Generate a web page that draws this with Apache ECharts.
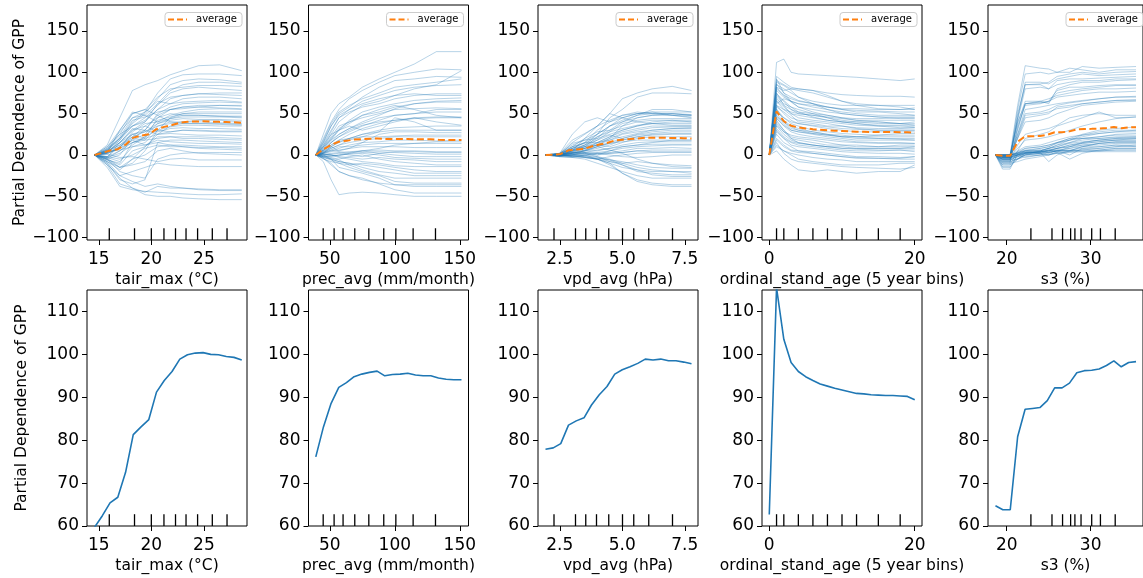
<!DOCTYPE html>
<html><head><meta charset="utf-8">
<script src="https://cdn.jsdelivr.net/npm/echarts@6/dist/echarts.min.js"></script>
<style>html,body{margin:0;padding:0;background:#fff}#c{width:1143px;height:578px}</style>
</head><body><div id="c"></div>
<script>
// ---------------- DATA ----------------
const featureLabels = ['tair_max (°C)', 'prec_avg (mm/month)', 'vpd_avg (hPa)', 'ordinal_stand_age (5 year bins)', 's3 (%)'];
const yAxisTitle = 'Partial Dependence of GPP';
const legendLabel = 'average';
const yTicksTop = [-100, -50, 0, 50, 100, 150];
const yTicksBottom = [60, 70, 80, 90, 100, 110];
const tairTicks = [15, 20, 25];
const precTicks = [50, 100, 150];
const vpdTicks = [2.5, 5.0, 7.5];
const ageTicks = [0, 20];
const s3Ticks = [20, 30];

// decile rug values
const tairDeciles = [16.0, 18.4, 20.0, 21.2, 22.3, 23.3, 24.4, 25.8, 27.2];
const precDeciles = [44.9, 53.3, 60.2, 69.2, 80.0, 91.5, 100.8, 114.1, 131.3];
const vpdDeciles = [2.27, 3.13, 3.54, 3.97, 4.46, 5.01, 5.46, 6.06, 7.01];
const ageDeciles = [1, 2, 4, 6, 8, 10, 12, 15, 18];
const s3Deciles = [22.88, 25.39, 26.65, 27.61, 28.12, 28.85, 30.12, 31.16, 32.92];

// partial dependence grids, averages (centered ICE mean) and PD
const tairGrid = [14.6, 15.34, 16.07, 16.81, 17.55, 18.28, 19.02, 19.76, 20.49, 21.23, 21.97, 22.71, 23.44, 24.18, 24.92, 25.65, 26.39, 27.13, 27.86, 28.6];
const tairAvg = [0, 2.6, 5.5, 7.0, 12.5, 21.0, 23.4, 25.0, 31.2, 34.0, 36.2, 39.0, 40.1, 40.6, 40.7, 40.3, 40.1, 39.8, 39.5, 39.0];
const tairPd = [59.7, 62.4, 65.4, 66.7, 72.5, 81.3, 83.1, 84.8, 91.2, 93.9, 96.0, 98.9, 99.9, 100.3, 100.4, 100.0, 99.9, 99.5, 99.3, 98.7];

const precGrid = [39.2, 45.1, 51.0, 56.9, 62.8, 68.7, 74.6, 80.5, 86.4, 92.3, 98.2, 104.1, 110.0, 115.9, 121.8, 127.7, 133.6, 139.5, 145.4, 151.3];
const precAvg = [0, 7.0, 12.3, 16.0, 17.3, 18.6, 19.2, 19.6, 19.9, 19.3, 19.3, 19.3, 19.4, 19.1, 18.9, 18.9, 18.4, 18.1, 18.0, 18.0];
const precPd = [76.1, 83.1, 88.6, 92.3, 93.4, 94.8, 95.4, 95.8, 96.1, 95.0, 95.3, 95.4, 95.6, 95.2, 95.0, 95.0, 94.5, 94.2, 94.1, 94.1];

const vpdGrid = [1.93, 2.24, 2.54, 2.85, 3.16, 3.47, 3.77, 4.08, 4.39, 4.70, 5.00, 5.31, 5.62, 5.92, 6.23, 6.54, 6.85, 7.15, 7.46, 7.77];
const vpdAvg = [0, 0.3, 1.3, 5.6, 6.6, 7.3, 10.3, 12.7, 14.6, 17.5, 18.5, 19.2, 20.0, 21.0, 20.8, 21.0, 20.6, 20.6, 20.3, 19.9];
const vpdPd = [77.9, 78.2, 79.2, 83.5, 84.5, 85.2, 88.2, 90.6, 92.5, 95.4, 96.4, 97.1, 97.9, 98.9, 98.7, 98.9, 98.5, 98.5, 98.2, 97.8];

const ageGrid = [0, 1, 2, 3, 4, 5, 6, 7, 8, 9, 10, 11, 12, 13, 14, 15, 16, 17, 18, 19, 20];
const ageAvg = [0, 52.8, 40.8, 35.4, 33.3, 32.1, 31.2, 30.4, 29.9, 29.4, 29.0, 28.6, 28.2, 28.1, 27.9, 27.8, 27.7, 27.7, 27.6, 27.5, 26.7];
const agePd = [62.7, 115.5, 103.5, 98.1, 96.0, 94.8, 93.9, 93.1, 92.6, 92.1, 91.7, 91.3, 90.9, 90.8, 90.6, 90.5, 90.4, 90.4, 90.3, 90.2, 89.4];

const s3Grid = [18.66, 19.54, 20.42, 21.30, 22.19, 23.07, 23.95, 24.83, 25.71, 26.59, 27.47, 28.35, 29.24, 30.12, 31.00, 31.88, 32.76, 33.64, 34.52, 35.40];
const s3Avg = [0, -0.9, -0.9, 16.1, 22.5, 22.7, 22.9, 24.5, 27.5, 27.5, 28.6, 31.0, 31.5, 31.6, 31.9, 32.7, 33.8, 32.4, 33.4, 33.6];
const s3Pd = [64.7, 63.8, 63.8, 80.8, 87.2, 87.4, 87.6, 89.2, 92.2, 92.2, 93.3, 95.7, 96.2, 96.3, 96.6, 97.4, 98.5, 97.1, 98.1, 98.3];

// individual conditional expectation (centered) lines
const tairIceX = [14.6, 15.8, 17, 18.2, 19.4, 20.6, 21.8, 23, 24.5, 26.5, 28.6];
const tairIce = [
 [0, 12, 45, 78, 85, 90, 97, 102, 108, 109, 102],
 [0, 8, 28, 45, 52, 75, 92, 97, 98, 98, 96],
 [0, 5, 20, 38, 50, 68, 85, 90, 92, 91, 88],
 [0, 10, 25, 35, 45, 60, 75, 80, 82, 80, 78],
 [0, 3, 15, 30, 40, 55, 68, 72, 74, 73, 72],
 [0, 6, 18, 40, 52, 65, 62, 64, 65, 66, 64],
 [0, -2, 10, 25, 30, 50, 58, 62, 63, 64, 63],
 [0, 4, 12, 22, 35, 45, 55, 58, 60, 60, 59],
 [0, 2, 8, 28, 38, 40, 48, 52, 55, 56, 55],
 [0, -4, 5, 18, 25, 42, 46, 50, 50, 50, 50],
 [0, 6, 22, 45, 48, 40, 44, 46, 46, 46, 45],
 [0, -6, -10, 15, 22, 38, 42, 44, 43, 43, 42],
 [0, 3, 10, 20, 18, 35, 40, 40, 40, 39, 38],
 [0, -3, 2, 12, 22, 30, 34, 36, 36, 35, 35],
 [0, 5, 15, 30, 35, 28, 32, 33, 32, 32, 31],
 [0, -8, -15, -10, 5, 30, 28, 30, 29, 28, 28],
 [0, 2, 8, 15, 20, 25, 26, 25, 24, 24, 23],
 [0, -5, -12, 5, 10, 22, 22, 20, 20, 19, 18],
 [0, 4, 6, 10, 12, 18, 16, 15, 14, 14, 13],
 [0, -2, -5, 0, 8, 12, 10, 10, 9, 9, 8],
 [0, -10, -30, -35, -30, 15, 12, 10, 8, 7, 6],
 [0, -5, -20, -25, -28, -5, 0, 2, 3, 3, 3],
 [0, 1, -3, -2, -5, -8, -5, -4, -6, -6, -6],
 [0, -8, -25, -20, -15, -10, -12, -13, -14, -14, -14],
 [0, -12, -35, -40, -45, -38, -40, -40, -41, -42, -42],
 [0, -15, -38, -42, -44, -45, -46, -47, -48, -48, -47],
 [0, -10, -28, -40, -48, -50, -50, -52, -53, -54, -54],
 [0, 7, 25, 50, 55, 48, 40, 38, 38, 37, 36],
 [0, 3, 30, 52, 48, 62, 70, 72, 74, 75, 75],
 [0, -3, 15, 25, 20, 45, 50, 48, 48, 47, 46],
 [0, 2, 18, 35, 42, 55, 62, 68, 70, 70, 68],
 [0, -5, 0, 20, 30, 48, 55, 58, 58, 57, 56],
 [0, 8, 20, 42, 46, 52, 55, 56, 58, 60, 60],
 [0, -3, -8, 10, 15, 30, 45, 50, 52, 52, 52],
 [0, 5, 12, 25, 28, 38, 44, 48, 48, 47, 47],
 [0, 1, 10, 22, 28, 35, 38, 40, 42, 42, 40],
 [0, -6, -15, -5, 10, 25, 35, 38, 38, 38, 37],
 [0, 4, 15, 32, 30, 25, 28, 30, 30, 29, 29],
 [0, -2, 5, 15, 18, 20, 22, 22, 22, 21, 20],
 [0, 3, 8, 18, 12, 15, 18, 18, 17, 16, 15],
 [0, -8, -18, -5, 0, 10, 12, 12, 11, 10, 10],
 [0, 6, 20, 35, 40, 62, 78, 85, 88, 88, 86],
 [0, -4, -15, -12, -8, 5, 8, 5, 2, 1, 0],
 [0, 10, 30, 50, 55, 70, 80, 82, 84, 84, 83],
 [0, -12, -25, -32, -38, -35, -38, -40, -42, -43, -43]
];
const precIceX = [39.2, 45, 51, 57, 65, 75, 88, 100, 115, 132, 151.3];
const precIce = [
 [0, 25, 50, 62, 70, 82, 92, 100, 110, 125, 125],
 [0, 20, 40, 55, 68, 78, 88, 96, 100, 104, 103],
 [0, 15, 35, 50, 58, 70, 82, 90, 92, 95, 94],
 [0, 18, 38, 52, 60, 68, 75, 82, 85, 88, 92],
 [0, 10, 25, 40, 50, 60, 65, 72, 80, 85, 102],
 [0, 12, 28, 45, 52, 58, 62, 68, 72, 74, 74],
 [0, 8, 20, 30, 42, 52, 58, 62, 66, 68, 69],
 [0, 10, 22, 35, 40, 45, 50, 55, 56, 57, 56],
 [0, 5, 15, 25, 32, 38, 45, 48, 50, 52, 52],
 [0, 6, 12, 18, 25, 32, 38, 42, 45, 46, 46],
 [0, 8, 18, 30, 35, 30, 35, 40, 45, 40, 36],
 [0, 4, 10, 15, 20, 25, 30, 33, 34, 35, 35],
 [0, 3, 8, 12, 18, 22, 28, 45, 40, 30, 30],
 [0, 5, 12, 18, 20, 22, 22, 23, 24, 24, 24],
 [0, 2, 5, 8, 12, 15, 16, 18, 18, 17, 18],
 [0, 3, 6, 10, 10, 12, 14, 14, 14, 14, 14],
 [0, 1, 2, 3, 4, 5, 6, 5, 5, 4, 4],
 [0, 0, 0, -1, 2, 3, 4, 3, 2, 1, 1],
 [0, -2, -1, 0, 3, 5, 2, 0, -2, -2, -2],
 [0, 1, 0, -2, -3, -5, -3, -5, -6, -8, -8],
 [0, -1, -3, -5, -2, 0, -5, -8, -10, -12, -12],
 [0, -3, -5, -8, -10, -15, -20, -22, -25, -25, -25],
 [0, -2, -4, -6, -12, -18, -24, -28, -28, -28, -28],
 [0, -5, -8, -10, -15, -20, -25, -32, -34, -34, -34],
 [0, 0, -5, -15, -18, -22, -28, -36, -38, -38, -38],
 [0, -8, -30, -48, -46, -45, -46, -48, -50, -50, -50],
 [0, -4, -10, -20, -25, -28, -35, -42, -46, -46, -46],
 [0, 12, 25, 30, 38, 48, 55, 60, 55, 48, 45],
 [0, 2, 10, 5, 8, 15, 25, 28, 28, 27, 27],
 [0, 6, 15, 22, 28, 35, 42, 48, 50, 55, 55],
 [0, 14, 30, 45, 55, 65, 72, 78, 82, 84, 85],
 [0, 10, 20, 32, 40, 48, 52, 58, 62, 64, 64],
 [0, 6, 15, 22, 30, 36, 40, 42, 44, 45, 45],
 [0, 4, 10, 16, 20, 25, 28, 30, 30, 30, 30],
 [0, 3, 8, 12, 15, 18, 20, 22, 22, 22, 22],
 [0, 2, 4, 6, 8, 10, 10, 10, 9, 9, 9],
 [0, 0, 1, 2, 0, -2, 2, 4, 4, 3, 3],
 [0, -1, -2, 0, 1, 2, 0, -3, -4, -5, -5],
 [0, -3, -6, -10, -12, -10, -12, -15, -18, -20, -20],
 [0, -2, -5, -8, -10, -12, -15, -18, -22, -22, -22],
 [0, -4, -12, -20, -25, -30, -34, -36, -36, -36, -36],
 [0, 16, 35, 48, 55, 62, 68, 72, 74, 72, 72],
 [0, 8, 18, 25, 32, 40, 48, 56, 62, 65, 66],
 [0, 1, 0, -3, -5, -8, -10, -13, -14, -14, -14],
 [0, 2, 6, 4, 2, 5, 8, 12, 14, 16, 16]
];
const vpdIceX = [1.93, 2.5, 3.0, 3.5, 4.0, 4.5, 5.0, 5.6, 6.2, 7.0, 7.77];
const vpdIce = [
 [0, 1, 15, 25, 35, 50, 68, 75, 80, 83, 78],
 [0, 0, 10, 15, 25, 45, 55, 70, 75, 75, 74],
 [0, 2, 25, 40, 45, 40, 45, 50, 52, 52, 52],
 [0, 1, 8, 15, 30, 40, 48, 52, 50, 50, 48],
 [0, 0, 5, 12, 20, 35, 40, 45, 48, 48, 45],
 [0, -1, 5, 20, 28, 30, 35, 40, 42, 42, 42],
 [0, 2, 12, 18, 20, 25, 30, 35, 38, 38, 38],
 [0, 0, 3, 8, 15, 22, 28, 32, 35, 35, 35],
 [0, 1, 8, 10, 15, 18, 25, 28, 30, 32, 32],
 [0, -2, 0, 5, 10, 15, 20, 24, 26, 28, 28],
 [0, 1, 5, 8, 12, 10, 15, 20, 22, 22, 22],
 [0, 0, 2, 5, 5, 8, 12, 15, 16, 16, 16],
 [0, -1, 0, 2, 3, 5, 8, 10, 11, 12, 12],
 [0, 0, -2, 0, 2, 3, 5, 8, 8, 9, 8],
 [0, 1, 3, 2, 0, 2, 3, 5, 4, 4, 4],
 [0, -2, -3, 0, -5, -2, 0, 2, 3, 3, 3],
 [0, 0, -2, -3, -5, -8, -10, -8, -10, -12, -13],
 [0, -1, 0, -3, -5, -10, -15, -18, -20, -20, -20],
 [0, 0, 1, 0, -2, -8, -12, -20, -22, -24, -24],
 [0, -2, -3, -5, -10, -15, -20, -25, -28, -28, -28],
 [0, -1, -2, -3, -5, -10, -22, -30, -34, -36, -36],
 [0, 0, -1, -2, -5, -12, -22, -32, -36, -38, -38],
 [0, 1, 4, 10, 22, 30, 40, 48, 55, 55, 52],
 [0, 0, 6, 12, 25, 35, 45, 50, 52, 48, 46],
 [0, 2, 8, 15, 15, 22, 30, 35, 40, 42, 40],
 [0, 0, 2, 5, 8, 12, 18, 22, 25, 26, 26],
 [0, -1, 2, 5, 10, 6, 2, -5, -10, -14, -15],
 [0, 1, 10, 20, 35, 50, 45, 40, 38, 36, 36],
 [0, 0, 3, 6, 12, 20, 35, 45, 48, 50, 48],
 [0, 1, 2, 3, 0, 5, 10, 12, 15, 18, 18],
 [0, 1, 14, 18, 25, 35, 42, 48, 50, 50, 49],
 [0, 0, 6, 10, 18, 28, 38, 42, 44, 44, 44],
 [0, 2, 10, 14, 22, 28, 32, 36, 38, 40, 40],
 [0, -1, 4, 8, 12, 18, 22, 26, 30, 32, 33],
 [0, 0, 2, 6, 10, 14, 18, 22, 24, 25, 25],
 [0, 1, 6, 10, 12, 14, 16, 18, 18, 18, 18],
 [0, 0, 0, 3, 6, 8, 10, 12, 13, 13, 13],
 [0, -1, 0, 0, 2, 2, 3, 5, 6, 6, 6],
 [0, 0, 1, 3, 2, 0, -2, -3, -2, 0, 0],
 [0, -1, -1, -2, -4, -6, -8, -12, -15, -16, -16],
 [0, 0, 0, -1, -3, -6, -12, -18, -24, -26, -26],
 [0, 1, 3, 2, -2, -5, -10, -15, -18, -20, -22],
 [0, 2, 18, 26, 35, 42, 48, 50, 50, 48, 48],
 [0, 0, 5, 8, 14, 20, 26, 30, 33, 34, 34],
 [0, 1, 8, 12, 18, 24, 20, 25, 28, 30, 30]
];
const ageIceX = [0, 1, 2, 3, 4, 6, 8, 10, 12, 15, 18, 20];
const ageIce = [
 [0, 112, 116, 100, 98, 97, 96, 95, 94, 92, 90, 92],
 [0, 95, 88, 82, 80, 78, 75, 73, 72, 71, 71, 70],
 [0, 90, 85, 80, 78, 75, 70, 65, 62, 60, 58, 55],
 [0, 85, 80, 75, 70, 65, 62, 60, 60, 60, 60, 60],
 [0, 80, 72, 68, 65, 62, 58, 55, 52, 52, 50, 48],
 [0, 92, 75, 65, 58, 52, 48, 45, 44, 44, 45, 45],
 [0, 70, 62, 58, 55, 50, 45, 42, 40, 40, 38, 38],
 [0, 75, 60, 50, 45, 42, 40, 38, 36, 35, 35, 34],
 [0, 65, 55, 48, 40, 38, 35, 35, 33, 32, 32, 33],
 [0, 60, 50, 42, 38, 35, 32, 30, 28, 28, 28, 28],
 [0, 55, 45, 38, 35, 30, 28, 26, 25, 24, 24, 24],
 [0, 50, 40, 32, 30, 28, 25, 22, 20, 20, 19, 18],
 [0, 45, 35, 28, 25, 22, 20, 18, 16, 15, 15, 14],
 [0, 40, 30, 22, 20, 18, 15, 12, 12, 10, 10, 10],
 [0, 35, 25, 18, 15, 12, 10, 8, 7, 6, 6, 4],
 [0, 30, 20, 12, 10, 8, 6, 4, 3, 2, 2, 1],
 [0, 20, 12, 6, 5, 4, 2, 0, -2, -2, -3, -2],
 [0, 10, 5, 2, 0, -3, -5, -6, -8, -8, -8, -8],
 [0, 5, -5, -12, -18, -20, -18, -20, -22, -20, -20, -12],
 [0, 15, 2, -5, -8, -10, -12, -14, -15, -16, -17, -15],
 [0, 82, 78, 80, 80, 78, 72, 65, 60, 56, 55, 57],
 [0, 88, 84, 78, 70, 62, 55, 50, 48, 46, 46, 46],
 [0, 62, 68, 65, 62, 58, 55, 52, 50, 48, 48, 48],
 [0, 72, 65, 55, 50, 48, 45, 40, 38, 35, 33, 33],
 [0, 48, 38, 30, 28, 25, 22, 20, 18, 18, 18, 18],
 [0, 42, 30, 20, 15, 12, 10, 8, 8, 8, 8, 8],
 [0, 25, 15, 10, 5, 2, 0, -2, -3, -4, -5, -5],
 [0, 58, 52, 45, 42, 40, 38, 35, 32, 30, 30, 30],
 [0, 68, 60, 55, 52, 50, 48, 45, 42, 40, 38, 36],
 [0, 38, 28, 20, 18, 15, 12, 12, 10, 10, 12, 12],
 [0, 78, 70, 65, 62, 60, 58, 56, 56, 55, 55, 55],
 [0, 86, 75, 70, 66, 62, 58, 55, 54, 53, 52, 52],
 [0, 66, 58, 50, 48, 45, 42, 40, 40, 38, 38, 40],
 [0, 52, 45, 40, 38, 36, 34, 32, 31, 30, 30, 30],
 [0, 44, 36, 30, 28, 26, 24, 22, 22, 22, 22, 22],
 [0, 36, 28, 24, 22, 20, 18, 16, 15, 14, 14, 14],
 [0, 28, 20, 15, 12, 10, 8, 6, 5, 5, 6, 6],
 [0, 18, 10, 5, 3, 2, 0, -2, -4, -4, -4, -2],
 [0, 12, 5, 0, -5, -8, -10, -12, -12, -12, -10, -10],
 [0, 60, 55, 52, 50, 48, 46, 44, 42, 42, 42, 42],
 [0, 74, 66, 58, 52, 46, 42, 40, 38, 36, 36, 36],
 [0, 56, 42, 35, 32, 28, 25, 24, 22, 20, 20, 20],
 [0, 32, 22, 16, 14, 12, 10, 10, 8, 8, 8, 10],
 [0, 46, 40, 34, 30, 26, 24, 22, 22, 24, 26, 26],
 [0, 82, 72, 64, 58, 55, 52, 50, 48, 46, 44, 44]
];
const s3IceX = [18.66, 19.5, 20.4, 21.3, 22.2, 24, 25, 26, 27.5, 29, 31, 33, 35.4];
const s3Ice = [
 [0, 0, 0, 60, 108, 105, 104, 100, 100, 107, 105, 106, 107],
 [0, -2, -2, 55, 98, 100, 98, 100, 105, 103, 100, 103, 103],
 [0, -5, -5, 50, 85, 86, 88, 95, 98, 100, 98, 100, 101],
 [0, -3, -3, 45, 85, 85, 80, 90, 92, 92, 93, 94, 95],
 [0, 0, 0, 40, 62, 65, 62, 80, 85, 88, 88, 90, 91],
 [0, -10, -10, 35, 60, 62, 65, 78, 82, 82, 84, 85, 85],
 [0, 0, 0, 38, 65, 65, 68, 72, 75, 78, 80, 80, 81],
 [0, -8, -8, 30, 62, 63, 65, 70, 72, 74, 76, 76, 77],
 [0, -2, -2, 25, 55, 58, 60, 62, 64, 66, 68, 70, 71],
 [0, 0, 0, 20, 45, 48, 50, 58, 60, 62, 64, 66, 67],
 [0, -5, -5, 12, 25, 30, 32, 36, 45, 48, 50, 48, 48],
 [0, -12, -12, 5, 20, 25, 28, 35, 40, 45, 52, 45, 46],
 [0, -17, -17, 2, 5, 8, 10, 15, 20, 25, 30, 32, 34],
 [0, -15, -15, 0, 3, 5, 8, 10, 15, 20, 22, 25, 26],
 [0, 0, 0, 2, 5, 5, 8, 12, 15, 18, 20, 21, 22],
 [0, -3, -3, 0, 2, 4, 6, 8, 10, 14, 16, 18, 18],
 [0, -8, -8, -5, 0, 2, 5, 5, 8, 12, 12, 14, 14],
 [0, 0, 0, 3, 5, 6, 2, 5, 0, 8, 10, 12, 10],
 [0, -4, -4, -2, 2, 4, 6, 3, -5, 2, 6, 8, 8],
 [0, -2, -2, 0, -3, 0, 3, 5, 5, 6, 5, 6, 6],
 [0, -6, -6, -5, -2, 0, 0, 2, 3, 4, 4, 4, 4],
 [0, -1, -1, 2, 8, 10, 12, 15, 20, 20, 22, 24, 24],
 [0, 0, 0, 1, 4, 6, 8, 10, 14, 16, 18, 20, 20],
 [0, -4, -4, 0, 1, 2, 3, 5, 6, 8, 8, 10, 12],
 [0, -10, -10, -8, -5, -2, 0, 3, 5, 10, 14, 16, 16],
 [0, -5, -5, 5, 10, 12, 15, 18, 22, 24, 26, 28, 30],
 [0, -3, -3, 20, 40, 42, 45, 50, 55, 60, 62, 64, 65],
 [0, -7, -7, 0, 5, 3, -8, 0, 5, 10, 14, 15, 15],
 [0, -12, -12, -5, 2, 4, 5, 8, 12, 15, 18, 18, 18],
 [0, -2, -2, 25, 50, 52, 55, 60, 63, 65, 68, 70, 70],
 [0, -4, -4, 45, 88, 88, 86, 92, 95, 98, 96, 97, 98],
 [0, 0, 0, 32, 62, 64, 64, 75, 78, 80, 82, 84, 84],
 [0, -6, -6, 22, 48, 50, 52, 56, 58, 62, 64, 66, 66],
 [0, -3, -3, 8, 18, 20, 22, 25, 30, 35, 40, 44, 46],
 [0, -1, -1, 4, 8, 10, 12, 15, 18, 20, 20, 22, 22],
 [0, -2, -2, 1, 3, 4, 5, 8, 10, 12, 14, 16, 16],
 [0, -9, -9, -4, 0, 2, 3, 5, 5, 6, 8, 10, 10],
 [0, 0, 0, 2, 3, 3, 4, 6, 8, 10, 10, 12, 12],
 [0, -5, -5, -2, 0, 0, 1, 2, 4, 6, 6, 8, 8],
 [0, -3, -3, 0, 2, 3, 5, 6, 5, 4, 5, 6, 6],
 [0, -14, -14, -5, 0, 5, 8, 12, 18, 22, 26, 28, 28],
 [0, -1, -1, 3, 6, 8, 10, 14, 18, 24, 28, 30, 30],
 [0, -6, -6, -2, 2, 4, 6, 8, 12, 14, 16, 18, 20],
 [0, 0, 0, 42, 80, 82, 80, 85, 88, 90, 90, 92, 92],
 [0, -2, -2, 0, 3, 2, 0, 4, 10, 15, 18, 20, 21]
];

// ---------------- LAYOUT / STYLE ----------------
const FONT = 'DejaVu Sans';
const colLeft = [87, 308.5, 538, 762, 988];
const panelW = 160;
const topRow = {top: 5, height: 235, min: -102.8, max: 181.4};
const botRow = {top: 290, height: 236, min: 60, max: 115};
const xRanges = [[13.88, 29.1], [33.6, 156.7], [1.63, 8.03], [-1, 21], [17.77, 36.23]];
const xTickSets = [tairTicks, precTicks, vpdTicks, ageTicks, s3Ticks];
const xFmt = [v => String(v), v => String(v), v => v.toFixed(1), v => String(v), v => String(v)];
const iceX = [tairIceX, precIceX, vpdIceX, ageIceX, s3IceX];
const iceY = [tairIce, precIce, vpdIce, ageIce, s3Ice];
const grids = [tairGrid, precGrid, vpdGrid, ageGrid, s3Grid];
const avgs = [tairAvg, precAvg, vpdAvg, ageAvg, s3Avg];
const pds = [tairPd, precPd, vpdPd, agePd, s3Pd];
const decs = [tairDeciles, precDeciles, vpdDeciles, ageDeciles, s3Deciles];

const zip = (xs, ys) => xs.map((x, i) => [x, ys[i]]);
const minus = v => String(v).replace('-', '\u2212');

const grid = [], xAxis = [], yAxis = [], series = [], graphic = [];
function rug(idx, values, yMin) {
  return {
    type: 'custom', xAxisIndex: idx, yAxisIndex: idx, silent: true, z: 5, clip: false,
    data: values.map(v => [v, yMin]),
    encode: {x: 0, y: 1},
    renderItem: (params, api) => {
      const p = api.coord([api.value(0), yMin]);
      const h = params.coordSys.height * 0.05;
      return {type: 'line', shape: {x1: p[0], y1: p[1], x2: p[0], y2: p[1] - h},
              style: {stroke: '#000', lineWidth: 1.3}};
    }
  };
}
function legendBox(right, top) {
  const w = 77, h = 14, x = right - 5 - w;
  return {type: 'group', x: x, y: top, z: 100, silent: true, children: [
    {type: 'rect', shape: {x: 0, y: 0, width: w, height: h, r: 3},
     style: {fill: 'rgba(255,255,255,0.8)', stroke: '#cccccc', lineWidth: 1}},
    {type: 'line', shape: {x1: 3, y1: h / 2, x2: 22, y2: h / 2},
     style: {stroke: '#ff7f0e', lineWidth: 2, lineDash: [6, 3]}},
    {type: 'text', x: 31, y: h / 2,
     style: {text: legendLabel, fontFamily: FONT, fontSize: 10, fill: '#000', textVerticalAlign: 'middle', verticalAlign: 'middle'}}
  ]};
}
for (let r = 0; r < 2; r++) {
  const row = r === 0 ? topRow : botRow;
  for (let c = 0; c < 5; c++) {
    const idx = r * 5 + c;
    grid.push({left: colLeft[c], top: row.top, width: panelW, height: row.height,
      show: true, borderColor: '#000', borderWidth: 1, backgroundColor: 'transparent', containLabel: false});
    xAxis.push({type: 'value', gridIndex: idx, min: xRanges[c][0], max: xRanges[c][1],
      name: featureLabels[c], nameLocation: 'middle', nameGap: 32,
      nameTextStyle: {fontFamily: FONT, fontSize: 15.5, color: '#000'},
      axisLine: {show: false, onZero: false},
      axisTick: {show: true, length: 5, lineStyle: {color: '#000', width: 1}, customValues: xTickSets[c]},
      axisLabel: {fontFamily: FONT, fontSize: 17, color: '#000', margin: 11, customValues: xTickSets[c], formatter: xFmt[c]},
      splitLine: {show: false}});
    const yTicks = r === 0 ? yTicksTop : yTicksBottom;
    yAxis.push({type: 'value', gridIndex: idx, min: row.min, max: row.max,
      name: c === 0 ? yAxisTitle : '', nameLocation: 'middle', nameGap: 57,
      nameTextStyle: {fontFamily: FONT, fontSize: 15.5, color: '#000'},
      axisLine: {show: false, onZero: false},
      axisTick: {show: true, length: 5, lineStyle: {color: '#000', width: 1}, customValues: yTicks},
      axisLabel: {fontFamily: FONT, fontSize: 17, color: '#000', margin: 8, customValues: yTicks, formatter: minus},
      splitLine: {show: false}});
    if (r === 0) {
      iceY[c].forEach(line => series.push({type: 'line', xAxisIndex: idx, yAxisIndex: idx,
        data: zip(iceX[c], line), symbol: 'none', silent: true, z: 2,
        lineStyle: {color: '#1f77b4', width: 1, opacity: 0.32}}));
      series.push({type: 'line', name: legendLabel, xAxisIndex: idx, yAxisIndex: idx,
        data: zip(grids[c], avgs[c]), symbol: 'none', silent: true, z: 4, color: '#ff7f0e',
        lineStyle: {color: '#ff7f0e', width: 2, type: [7, 3.5]}});
      series.push(rug(idx, decs[c], row.min));
      graphic.push(legendBox(colLeft[c] + panelW, 12.5));
    } else {
      series.push({type: 'line', xAxisIndex: idx, yAxisIndex: idx,
        data: zip(grids[c], pds[c]), symbol: 'none', silent: true, z: 3,
        lineStyle: {color: '#1f77b4', width: 1.6}});
      series.push(rug(idx, decs[c], row.min));
    }
  }
}
const chart = echarts.init(document.getElementById('c'), null, {renderer: 'canvas'});
chart.setOption({animation: false, backgroundColor: '#fff', grid, xAxis, yAxis, series, graphic});
</script></body></html>
